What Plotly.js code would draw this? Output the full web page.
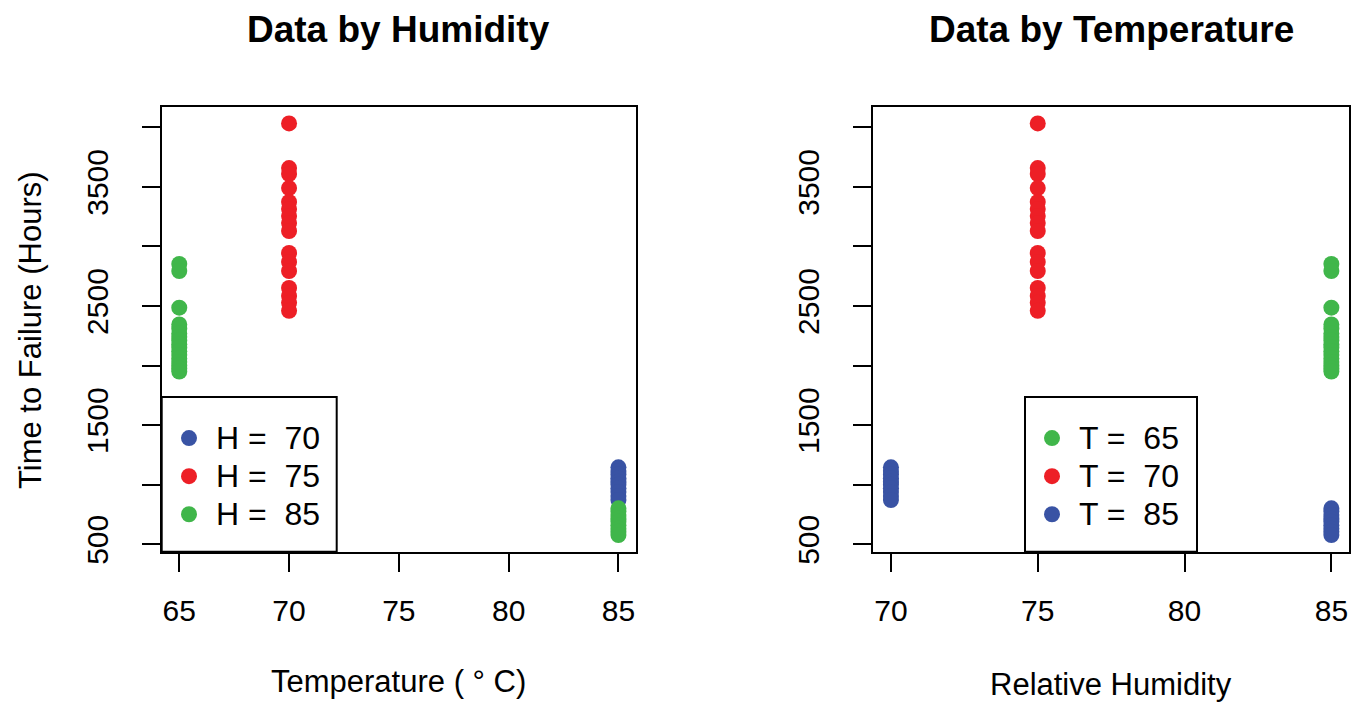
<!DOCTYPE html>
<html>
<head>
<meta charset="utf-8">
<script src="https://cdn.plot.ly/plotly-3.0.1.min.js"></script>
<style>html,body{margin:0;padding:0;background:#fff;}#chart{width:1363px;height:702px;}</style>
</head>
<body>
<div id="chart"></div>
<script>
// Time to failure (hours) per test condition (Temperature T, Humidity H)
const ttf_T65_H85 = [2853, 2794, 2486, 2345, 2310, 2270, 2240, 2210, 2180, 2150, 2120, 2090, 2060, 2030, 2000, 1975, 1950];
const ttf_T70_H75 = [4033, 3658, 3608, 3490, 3373, 3314, 3255, 3196, 3130, 2945, 2870, 2794, 2652, 2585, 2527, 2460];
const ttf_T85_H70 = [1146, 1115, 1085, 1055, 1025, 1000, 970, 940, 905, 872];
const ttf_T85_H85 = [802, 775, 745, 715, 690, 660, 630, 605, 578];

const yTickVals = [500, 1000, 1500, 2000, 2500, 3000, 3500, 4000];
const yTickText = ['500', '', '1500', '', '2500', '', '3500', ''];
const xTicksTemp = [65, 70, 75, 80, 85];
const xTicksHum = [70, 75, 80, 85];

const BLUE = '#3953a4', RED = '#ed1f26', GREEN = '#40b64a';
const FONT = 'Liberation Sans, Arial, Helvetica, sans-serif';
const NB = '\u00a0';

function rep(v, n) { return Array(n).fill(v); }
function lab(p, v) { return '<span style="font-size:32px">' + p + ' =' + NB + NB + v + '</span>'; }

const traces = [
  // Left: by humidity, x = temperature
  { x: rep(85, ttf_T85_H70.length), y: ttf_T85_H70, name: lab('H', 70), xaxis: 'x', yaxis: 'y', legend: 'legend', color: BLUE },
  { x: rep(70, ttf_T70_H75.length), y: ttf_T70_H75, name: lab('H', 75), xaxis: 'x', yaxis: 'y', legend: 'legend', color: RED },
  { x: rep(65, ttf_T65_H85.length).concat(rep(85, ttf_T85_H85.length)), y: ttf_T65_H85.concat(ttf_T85_H85),
    name: lab('H', 85), xaxis: 'x', yaxis: 'y', legend: 'legend', color: GREEN },
  // Right: by temperature, x = humidity
  { x: rep(85, ttf_T65_H85.length), y: ttf_T65_H85, name: lab('T', 65), xaxis: 'x2', yaxis: 'y2', legend: 'legend2', color: GREEN },
  { x: rep(75, ttf_T70_H75.length), y: ttf_T70_H75, name: lab('T', 70), xaxis: 'x2', yaxis: 'y2', legend: 'legend2', color: RED },
  { x: rep(70, ttf_T85_H70.length).concat(rep(85, ttf_T85_H85.length)), y: ttf_T85_H70.concat(ttf_T85_H85),
    name: lab('T', 85), xaxis: 'x2', yaxis: 'y2', legend: 'legend2', color: BLUE }
].map(t => ({
  type: 'scatter', mode: 'markers', x: t.x, y: t.y, name: t.name,
  xaxis: t.xaxis, yaxis: t.yaxis, legend: t.legend,
  marker: { color: t.color, size: 16, line: { width: 0 } },
  hoverinfo: 'x+y'
}));

const W = 1363, H = 702;
const px = v => v / W, py = v => 1 - v / H;

const axisCommon = {
  showline: true, mirror: true, linecolor: '#000', linewidth: 2,
  ticks: 'outside', ticklen: 18, tickwidth: 2, tickcolor: '#000',
  showgrid: false, zeroline: false, fixedrange: true,
  tickfont: { family: FONT, size: 30, color: '#000' }
};

const legendCommon = {
  xanchor: 'left', yanchor: 'top',
  bgcolor: 'rgba(0,0,0,0)', borderwidth: 0, itemwidth: 44,
  font: { family: FONT, size: 27, color: '#000' }, itemclick: false, itemdoubleclick: false
};

const layout = {
  width: W, height: H,
  margin: { l: 0, r: 0, t: 0, b: 0 },
  paper_bgcolor: '#fff', plot_bgcolor: '#fff',
  showlegend: true,
  xaxis: Object.assign({}, axisCommon, {
    domain: [px(161.7), px(636)], range: [64.2, 85.8],
    tickmode: 'array', tickvals: xTicksTemp, ticktext: xTicksTemp.map(String),
    ticklabelstandoff: 13, anchor: 'y'
  }),
  yaxis: Object.assign({}, axisCommon, {
    domain: [py(551.7), py(106.7)], range: [438, 4173],
    tickmode: 'array', tickvals: yTickVals, ticktext: yTickText,
    tickangle: -90, ticklabelstandoff: 22, anchor: 'x'
  }),
  xaxis2: Object.assign({}, axisCommon, {
    domain: [px(873.3), px(1349)], range: [69.4, 85.6],
    tickmode: 'array', tickvals: xTicksHum, ticktext: xTicksHum.map(String),
    ticklabelstandoff: 13, anchor: 'y2'
  }),
  yaxis2: Object.assign({}, axisCommon, {
    domain: [py(551.7), py(106.7)], range: [438, 4173],
    tickmode: 'array', tickvals: yTickVals, ticktext: yTickText,
    tickangle: -90, ticklabelstandoff: 22, anchor: 'x2'
  }),
  legend: Object.assign({}, legendCommon, { x: px(162), y: py(414) }),
  legend2: Object.assign({}, legendCommon, { x: px(1025), y: py(414) }),
  shapes: [
    { type: 'rect', xref: 'paper', yref: 'paper', layer: 'below',
      x0: px(161.7), x1: px(336.7), y0: py(551.7), y1: py(397),
      line: { color: '#000', width: 2 }, fillcolor: '#fff' },
    { type: 'rect', xref: 'paper', yref: 'paper', layer: 'below',
      x0: px(1025), x1: px(1197), y0: py(551.7), y1: py(397),
      line: { color: '#000', width: 2 }, fillcolor: '#fff' }
  ],
  annotations: [
    { text: '<b>Data by Humidity</b>', x: px(398), y: py(30), xref: 'paper', yref: 'paper',
      showarrow: false, xanchor: 'center', yanchor: 'middle', font: { family: FONT, size: 37, color: '#000' } },
    { text: '<b>Data by Temperature</b>', x: px(1111), y: py(30), xref: 'paper', yref: 'paper',
      showarrow: false, xanchor: 'center', yanchor: 'middle', font: { family: FONT, size: 37, color: '#000' } },
    { text: 'Temperature (' + NB + '°' + NB + 'C)', x: px(398), y: py(681), xref: 'paper', yref: 'paper',
      showarrow: false, xanchor: 'center', yanchor: 'middle', font: { family: FONT, size: 31, color: '#000' } },
    { text: 'Relative Humidity', x: px(1111), y: py(684), xref: 'paper', yref: 'paper',
      showarrow: false, xanchor: 'center', yanchor: 'middle', font: { family: FONT, size: 31, color: '#000' } },
    { text: 'Time to Failure (Hours)', x: px(30), y: py(330), xref: 'paper', yref: 'paper', textangle: -90,
      showarrow: false, xanchor: 'center', yanchor: 'middle', font: { family: FONT, size: 31, color: '#000' } }
  ]
};

Plotly.newPlot('chart', traces, layout, { displayModeBar: false, staticPlot: true });
</script>
</body>
</html>
